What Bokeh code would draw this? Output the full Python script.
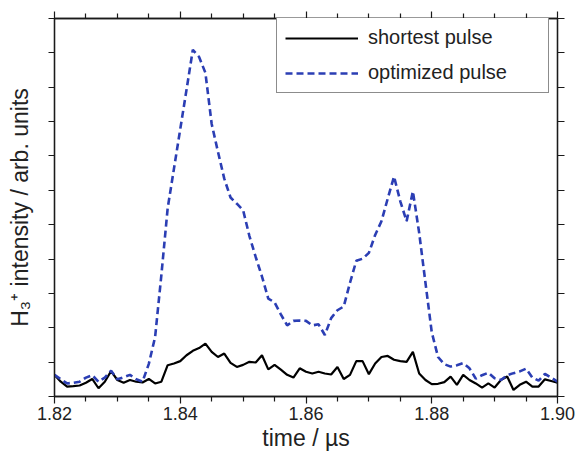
from bokeh.plotting import figure
from bokeh.models import (Range1d, LinearAxis, FixedTicker, PrintfTickFormatter,
                          Legend, LegendItem, ColumnDataSource, CustomLabelingPolicy)
from bokeh.embed import file_html
from bokeh.resources import INLINE

# ---- data ----
time_us = [1.820, 1.821, 1.822, 1.823, 1.824, 1.825, 1.826, 1.827, 1.828, 1.829,
           1.830, 1.831, 1.832, 1.833, 1.834, 1.835, 1.836, 1.837, 1.838, 1.839,
           1.840, 1.841, 1.842, 1.843, 1.844, 1.845, 1.846, 1.847, 1.848, 1.849,
           1.850, 1.851, 1.852, 1.853, 1.854, 1.855, 1.856, 1.857, 1.858, 1.859,
           1.860, 1.861, 1.862, 1.863, 1.864, 1.865, 1.866, 1.867, 1.868, 1.869,
           1.870, 1.871, 1.872, 1.873, 1.874, 1.875, 1.876, 1.877, 1.878, 1.879,
           1.880, 1.881, 1.882, 1.883, 1.884, 1.885, 1.886, 1.887, 1.888, 1.889,
           1.890, 1.891, 1.892, 1.893, 1.894, 1.895, 1.896, 1.897, 1.898, 1.899,
           1.900]

shortest_pulse = [0.63, 0.43, 0.29, 0.30, 0.32, 0.40, 0.51, 0.24, 0.43, 0.74,
                  0.48, 0.40, 0.48, 0.43, 0.41, 0.51, 0.38, 0.43, 0.91, 0.96,
                  1.03, 1.20, 1.33, 1.41, 1.54, 1.30, 1.15, 1.25, 0.98, 0.86,
                  0.92, 1.01, 0.99, 1.20, 0.79, 0.92, 0.78, 0.63, 0.55, 0.82,
                  0.72, 0.67, 0.72, 0.67, 0.64, 0.86, 0.51, 0.63, 1.03, 1.03,
                  0.65, 0.96, 1.15, 1.18, 1.07, 1.03, 1.01, 1.30, 0.67, 0.48,
                  0.36, 0.37, 0.42, 0.58, 0.34, 0.63, 0.48, 0.38, 0.26, 0.38,
                  0.26, 0.48, 0.58, 0.19, 0.34, 0.43, 0.29, 0.29, 0.50, 0.45,
                  0.40]

optimized_pulse = [0.63, 0.50, 0.38, 0.40, 0.43, 0.55, 0.62, 0.43, 0.55, 0.75,
                   0.50, 0.56, 0.63, 0.50, 0.43, 0.95, 1.73, 3.54, 5.48, 6.63,
                   7.78, 8.93, 10.09, 9.88, 9.42, 7.93, 7.12, 6.34, 5.79, 5.61,
                   5.42, 4.67, 4.06, 3.49, 2.85, 2.74, 2.39, 2.07, 2.20, 2.21,
                   2.20, 2.07, 2.10, 1.79, 2.28, 2.51, 2.62, 3.31, 3.95, 4.01,
                   4.18, 4.70, 5.10, 5.76, 6.40, 5.68, 5.10, 5.97, 4.76, 3.31,
                   1.87, 1.15, 0.94, 0.87, 0.91, 0.97, 0.82, 0.52, 0.62, 0.69,
                   0.53, 0.48, 0.62, 0.68, 0.73, 0.81, 0.55, 0.46, 0.66, 0.55,
                   0.43]

x_major_ticks = [1.82, 1.84, 1.86, 1.88, 1.90]
x_minor_ticks = [1.825, 1.83, 1.835, 1.845, 1.85, 1.855, 1.865, 1.87, 1.875,
                 1.885, 1.89, 1.895]
y_ticks = [0, 1, 2, 3, 4, 5, 6, 7, 8, 9, 10, 11]

legend_labels = ["shortest pulse", "optimized pulse"]
x_label = "time / µs"
y_label = "H\u2083\u207a intensity / arb. units"

FONT = "Liberation Sans"
AXIS_COLOR = "#1a1a1a"
TEXT_COLOR = "#222222"
BLUE = "#2b3eb4"

src = ColumnDataSource(dict(t=time_us, short=shortest_pulse, opt=optimized_pulse))

p = figure(width=579, height=457, output_backend="svg", toolbar_location=None,
           x_range=Range1d(1.82, 1.90), y_range=Range1d(0, 11),
           min_border_left=54, min_border_right=18, min_border_top=13, min_border_bottom=61,
           x_axis_location=None, y_axis_location=None)
p.grid.visible = False
p.outline_line_color = AXIS_COLOR
p.outline_line_width = 1.3
p.background_fill_color = "white"
p.border_fill_color = "white"

no_labels = CustomLabelingPolicy(code="return []")

def style_axis(ax, labels=True):
    ax.axis_line_color = AXIS_COLOR
    ax.axis_line_width = 1.3
    ax.major_tick_line_color = AXIS_COLOR
    ax.minor_tick_line_color = AXIS_COLOR
    ax.major_tick_line_width = 1.2
    ax.minor_tick_line_width = 1.2
    ax.major_tick_in = 0
    ax.minor_tick_in = 0
    if not labels:
        ax.major_label_policy = no_labels
        ax.major_label_standoff = 0

xb = LinearAxis(ticker=FixedTicker(ticks=x_major_ticks, minor_ticks=x_minor_ticks),
                formatter=PrintfTickFormatter(format="%.2f"))
style_axis(xb)
xb.major_tick_out = 7
xb.minor_tick_out = 5
xb.major_label_standoff = 3
xb.major_label_text_font = FONT
xb.major_label_text_font_size = "18px"
xb.major_label_text_color = TEXT_COLOR
xb.axis_label = x_label
xb.axis_label_text_font = FONT
xb.axis_label_text_font_size = "23px"
xb.axis_label_text_font_style = "normal"
xb.axis_label_text_color = TEXT_COLOR
xb.axis_label_standoff = 2
p.add_layout(xb, "below")

xtop = LinearAxis(ticker=FixedTicker(ticks=x_major_ticks, minor_ticks=x_minor_ticks))
style_axis(xtop, labels=False)
xtop.major_tick_out = 7
xtop.minor_tick_out = 5
p.add_layout(xtop, "above")

yl = LinearAxis(ticker=FixedTicker(ticks=y_ticks))
style_axis(yl, labels=False)
yl.major_tick_out = 6
yl.axis_label = y_label
yl.axis_label_text_font = FONT
yl.axis_label_text_font_size = "23px"
yl.axis_label_text_font_style = "normal"
yl.axis_label_text_color = TEXT_COLOR
yl.axis_label_standoff = 0
p.add_layout(yl, "left")

yr = LinearAxis(ticker=FixedTicker(ticks=y_ticks))
style_axis(yr, labels=False)
yr.major_tick_out = 7
p.add_layout(yr, "right")

r_short = p.line("t", "short", source=src, line_color="black", line_width=2.2)
r_opt = p.line("t", "opt", source=src, line_color=BLUE, line_width=2.6, line_dash="7 4")

legend = Legend(items=[LegendItem(label=legend_labels[0], renderers=[r_short]),
                       LegendItem(label=legend_labels[1], renderers=[r_opt])],
                location=(222, 303), orientation="vertical",
                padding=8, spacing=12, glyph_width=73, glyph_height=20,
                label_height=20, label_width=172, label_standoff=10,
                border_line_color=AXIS_COLOR, border_line_width=1.5,
                background_fill_color="white", background_fill_alpha=1.0,
                label_text_font=FONT, label_text_font_size="20px",
                label_text_color=TEXT_COLOR, margin=0)
p.add_layout(legend, "center")

open("out.html", "w").write(file_html(p, INLINE))
